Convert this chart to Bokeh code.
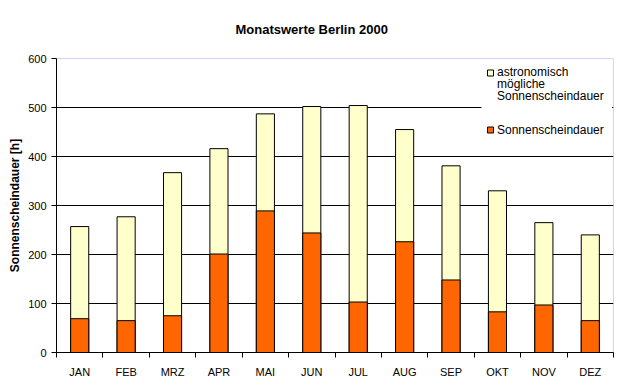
from bokeh.plotting import figure
from bokeh.models import ColumnDataSource, Range1d, FixedTicker, Label, BoxAnnotation
from bokeh.embed import file_html
from bokeh.resources import INLINE

# ---- data ----
months = ["JAN", "FEB", "MRZ", "APR", "MAI", "JUN", "JUL", "AUG", "SEP", "OKT", "NOV", "DEZ"]
possible = [257, 277, 367, 416, 487, 502, 504, 455, 381, 330, 265, 240]
sunshine = [69, 65, 75, 201, 289, 244, 103, 226, 148, 83, 97, 65]
y_ticks = [0, 100, 200, 300, 400, 500, 600]

FONT = "Liberation Sans"

# frame in page pixels
FL, FR, FB, FT = 56, 613, 352, 58
NX = len(months)
YMAX = 600
W, H = 618, 381


def dx(px):
    return (px - FL) / (FR - FL) * NX


def dy(py):
    return (FB - py) / (FB - FT) * YMAX


xs = [i + 0.5 for i in range(NX)]
source = ColumnDataSource(dict(x=xs, month=months, possible=possible, sunshine=sunshine))

p = figure(width=W, height=H, x_range=Range1d(0, NX), y_range=Range1d(0, YMAX),
           output_backend="svg", toolbar_location=None,
           min_border_left=FL, min_border_right=W - FR, min_border_top=FT,
           min_border_bottom=H - FB)
p.background_fill_color = "white"
p.border_fill_color = "white"
p.outline_line_color = "#d4d4fa"
p.outline_line_width = 1

# title
p.title.text = "Monatswerte Berlin 2000"
p.title.text_font = FONT
p.title.text_font_size = "13px"
p.title.text_font_style = "bold"
p.title.text_color = "black"
p.title.align = "left"
p.title.offset = 179
p.title.vertical_align = "top"
p.title.standoff = 40

# legend background (under glyphs, over grid)
p.add_layout(BoxAnnotation(left=dx(481), right=dx(611.5), bottom=dy(138), top=dy(59.5),
                           fill_color="white", fill_alpha=1.0, line_color=None,
                           level="underlay"))

p.vbar(x="x", top="possible", width=0.39, fill_color="#FFFFCC", line_color="black",
       line_width=1, source=source)
p.vbar(x="x", top="sunshine", width=0.39, fill_color="#FF6600", line_color="black",
       line_width=1, source=source)

# grid
p.xgrid.grid_line_color = None
p.ygrid.ticker = FixedTicker(ticks=y_ticks[1:-1])
p.ygrid.grid_line_color = "black"
p.ygrid.grid_line_width = 1

# y axis
p.yaxis.ticker = FixedTicker(ticks=y_ticks)
p.yaxis.major_tick_out = 5
p.yaxis.major_tick_in = 0
p.yaxis.minor_tick_out = 0
p.yaxis.minor_tick_in = 0
p.yaxis.axis_line_color = "black"
p.yaxis.major_tick_line_color = "black"
p.yaxis.major_label_text_font = FONT
p.yaxis.major_label_text_font_size = "11px"
p.yaxis.major_label_text_color = "black"
p.yaxis.major_label_standoff = 5
p.yaxis.axis_label = "Sonnenscheindauer [h]"
p.yaxis.axis_label_text_font = FONT
p.yaxis.axis_label_text_font_size = "12px"
p.yaxis.axis_label_text_font_style = "bold"
p.yaxis.axis_label_text_color = "black"
p.yaxis.axis_label_standoff = 3

# x axis
p.xaxis.ticker = FixedTicker(ticks=xs, minor_ticks=list(range(NX + 1)))
p.xaxis.major_label_overrides = {x: m for x, m in zip(xs, months)}
p.xaxis.major_tick_line_color = None
p.xaxis.major_tick_out = 5
p.xaxis.major_tick_in = 0
p.xaxis.minor_tick_line_color = "black"
p.xaxis.minor_tick_out = 5
p.xaxis.minor_tick_in = 0
p.xaxis.axis_line_color = "black"
p.xaxis.major_label_text_font = FONT
p.xaxis.major_label_text_font_size = "11px"
p.xaxis.major_label_text_color = "black"
p.xaxis.major_label_standoff = 8

# legend
leg_lines = [("astronomisch", 71.5), ("mögliche", 83.5), ("Sonnenscheindauer", 95.5),
             ("Sonnenscheindauer", 129.5)]
for txt, ypx in leg_lines:
    p.add_layout(Label(x=dx(496.5), y=dy(ypx), text=txt, text_font=FONT, text_font_size="12px",
                       text_color="black", text_align="left", text_baseline="middle"))
p.scatter(x=[dx(490), dx(490)], y=[dy(72.5), dy(129.5)], marker="square", size=6,
          fill_color=["#FFFFCC", "#FF6600"], line_color="black", line_width=1)

open("out.html", "w").write(file_html(p, INLINE))
